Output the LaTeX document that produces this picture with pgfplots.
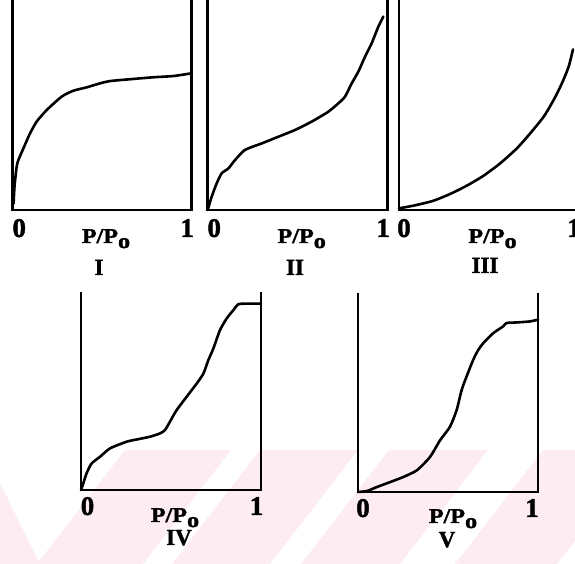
\documentclass[border=0pt]{standalone}
\usepackage{pgfplots}
\pgfplotsset{compat=1.18}
\usepackage{graphicx}
\usepackage{fontspec}
\setmainfont{Liberation Serif}[BoldFeatures={FakeBold=1.6}]

\definecolor{wmpink}{RGB}{253,236,241}

\pgfplotsset{
  isotherm/.style={scale only axis, anchor=south west,
    xmin=0, xmax=1, ymin=0, ymax=1, hide axis, clip=false},
  curve/.style={black, line width=2.6pt, smooth, tension=0.4,
    line join=round, line cap=round},
}
% open frame: left, bottom and right sides, no top
\newcommand\frameaxis{\draw[line width=2.8pt, line join=miter]
  (rel axis cs:0,1) -- (rel axis cs:0,0) -- (rel axis cs:1,0) -- (rel axis cs:1,1);}

\newcommand\digitfont{\fontsize{27}{27}\selectfont\bfseries}
\newcommand\ppfont{\fontsize{21}{21}\selectfont\bfseries}
\newcommand\numfont{\fontsize{23}{23}\selectfont\bfseries}
\newcommand\PP{\scalebox{1.15}[1]{P/P\raisebox{-5pt}{o}}}

% adsorption isotherm types I--V
\pgfplotstableread{
x y
0.005 0.03
0.010 0.111
0.022 0.206
0.032 0.238
0.060 0.294
0.097 0.365
0.134 0.421
0.190 0.476
0.274 0.540
0.339 0.568
0.413 0.584
0.488 0.603
0.544 0.614
0.674 0.624
0.786 0.632
0.898 0.638
1.000 0.651
}\typeI
\pgfplotstableread{
x y
0.000 0.000
0.022 0.063
0.050 0.127
0.078 0.175
0.115 0.198
0.152 0.238
0.207 0.286
0.300 0.317
0.393 0.349
0.485 0.381
0.578 0.421
0.670 0.468
0.726 0.508
0.763 0.540
0.800 0.603
0.837 0.659
0.874 0.730
0.911 0.794
0.948 0.873
0.976 0.921
}\typeII
\pgfplotstableread{
x y
0.000 0.008
0.034 0.013
0.099 0.024
0.192 0.044
0.285 0.076
0.379 0.116
0.472 0.163
0.565 0.222
0.659 0.294
0.733 0.365
0.808 0.444
0.864 0.524
0.910 0.603
0.948 0.683
0.972 0.765
}\typeIII
\pgfplotstableread{
x y
0.000 0.000
0.013 0.034
0.031 0.084
0.059 0.134
0.106 0.168
0.161 0.210
0.254 0.244
0.309 0.255
0.383 0.269
0.439 0.286
0.467 0.303
0.494 0.345
0.531 0.403
0.587 0.471
0.643 0.538
0.680 0.588
0.707 0.655
0.735 0.714
0.772 0.807
0.809 0.866
0.846 0.908
0.874 0.938
0.920 0.941
1.000 0.941
}\typeIV
\pgfplotstableread{
x y
0.000 0.000
0.050 0.005
0.105 0.025
0.179 0.050
0.253 0.076
0.327 0.109
0.400 0.176
0.456 0.260
0.511 0.328
0.548 0.412
0.576 0.513
0.603 0.580
0.640 0.664
0.668 0.714
0.696 0.748
0.751 0.798
0.806 0.832
0.825 0.849
0.880 0.852
0.954 0.857
1.000 0.866
}\typeV

\begin{document}
\begin{tikzpicture}[x=1pt, y=1pt]
\useasboundingbox (0,0) rectangle (575,564);
\clip (0,0) rectangle (575,564);

% light diagonal stripes behind the lower row
\fill[wmpink] (0,81) -- (40,0) -- (0,0) -- cycle;
\fill[wmpink] (125,114) -- (231,114) -- (143,0) -- (37,0) -- cycle;
\fill[wmpink] (260,114) -- (358,114) -- (270,0) -- (172,0) -- cycle;
\fill[wmpink] (389,114) -- (488,114) -- (400,0) -- (301,0) -- cycle;
\fill[wmpink] (543,114) -- (645,114) -- (557,0) -- (455,0) -- cycle;

% I
\begin{axis}[isotherm, at={(12.7pt,354pt)}, width=179pt, height=210pt]
  \addplot[curve] table {\typeI};
  \frameaxis
\end{axis}
% II
\begin{axis}[isotherm, at={(207.7pt,354pt)}, width=180pt, height=210pt]
  \addplot[curve] table {\typeII};
  \frameaxis
\end{axis}
% III
\begin{axis}[isotherm, at={(399pt,354pt)}, width=179pt, height=210pt]
  \addplot[curve] table {\typeIII};
  \frameaxis
\end{axis}
% IV
\begin{axis}[isotherm, at={(81pt,74pt)}, width=180pt, height=198pt]
  \addplot[curve] table {\typeIV};
  \frameaxis
\end{axis}
% V
\begin{axis}[isotherm, at={(358pt,72pt)}, width=180pt, height=199pt]
  \addplot[curve] table {\typeV};
  \frameaxis
\end{axis}

% axis labels
\begin{scope}[every node/.style={anchor=base, inner sep=0pt}]
  \node[font=\digitfont] at (19.2,327) {0};
  \node[font=\digitfont] at (187.2,327) {1};
  \node[font=\ppfont] at (106,321) {\PP};
  \node[font=\numfont] at (99,289) {I};

  \node[font=\digitfont] at (214.2,327) {0};
  \node[font=\digitfont] at (383.2,327) {1};
  \node[font=\ppfont] at (301.7,321) {\PP};
  \node[font=\numfont] at (295,289) {II};

  \node[font=\digitfont] at (404,327) {0};
  \node[font=\digitfont] at (574,327) {1};
  \node[font=\ppfont] at (492.5,321) {\PP};
  \node[font=\numfont] at (485,291) {III};

  \node[font=\digitfont] at (87.5,49) {0};
  \node[font=\digitfont] at (256.5,49) {1};
  \node[font=\ppfont] at (175,42) {\PP};
  \node[font=\numfont] at (179,19) {IV};

  \node[font=\digitfont] at (363,47) {0};
  \node[font=\digitfont] at (532,47) {1};
  \node[font=\ppfont] at (453,41) {\PP};
  \node[font=\numfont] at (447,17) {V};
\end{scope}
\end{tikzpicture}
\end{document}
